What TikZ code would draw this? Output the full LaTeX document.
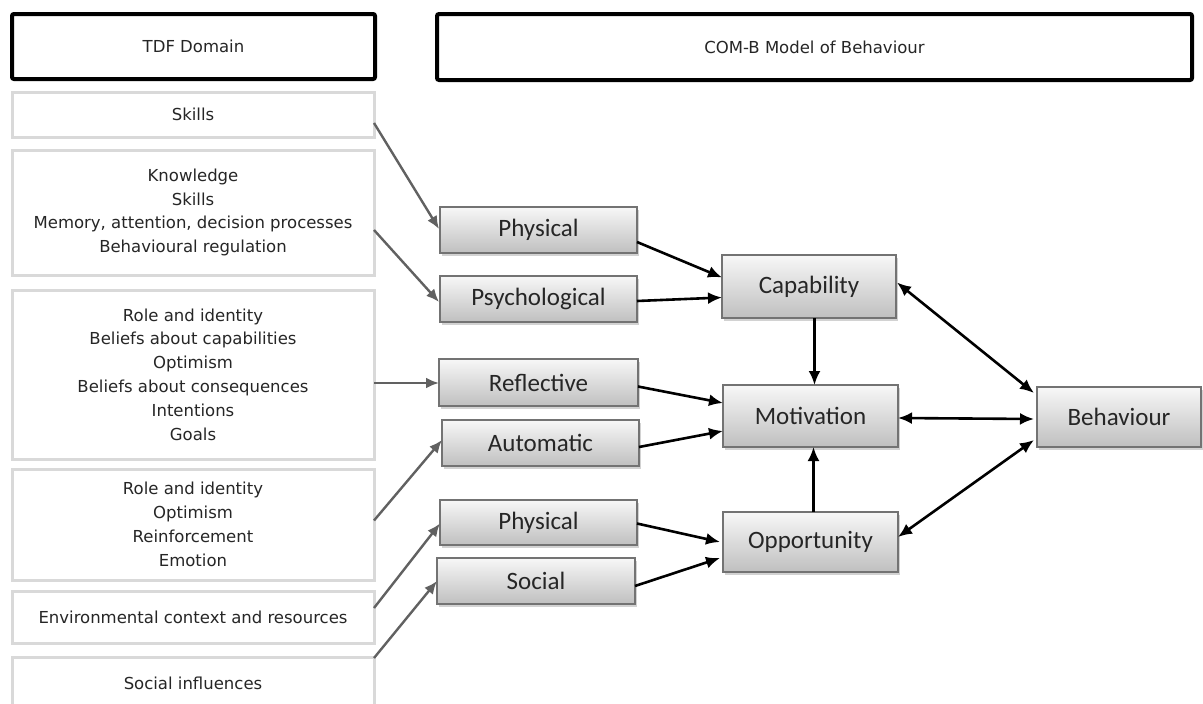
\documentclass[tikz,border=0pt]{standalone}
\usepackage{fontspec}
\setmainfont{DejaVu Sans}
\newfontfamily\calfont{Carlito}
\usetikzlibrary{arrows.meta,shadows,calc}
\begin{document}
\begin{tikzpicture}[x=1pt,y=-1pt,
  hdr/.style={draw=black,line width=4pt,rounded corners=2pt,inner sep=0pt,outer sep=0pt,
    font=\fontsize{16.5}{18}\selectfont,text=black!85},
  tdf/.style={draw=black!15,line width=3pt,inner sep=0pt,outer sep=0pt,minimum width=362pt,
    align=center,font=\fontsize{16.5}{23.8}\selectfont,text=black!85},
  gbox/.style={draw=black!55,line width=1.3pt,top color=black!3,bottom color=black!25,
    drop shadow={shadow xshift=2pt,shadow yshift=-2.5pt,opacity=0.35},
    inner sep=0pt,outer sep=0pt,font=\calfont\fontsize{25}{28}\selectfont,text=black!85},
  garrow/.style={draw=black!62,line width=2.4pt,-{Latex[length=13pt,width=11pt]}},
  barrow/.style={draw=black,line width=2.6pt,-{Latex[length=14pt,width=12pt]}},
  bdarrow/.style={draw=black,line width=2.6pt,{Latex[length=14pt,width=12pt]}-{Latex[length=14pt,width=12pt]}}
]
\clip (0,0) rectangle (1203,704);
\fill[white] (0,0) rectangle (1203,704);

% headers
\node[hdr,minimum width=363pt,minimum height=65pt] (hA) at (193.5,46.5) {TDF Domain};
\node[hdr,minimum width=755pt,minimum height=66pt] (hB) at (814.5,47) {COM-B Model of Behaviour};

% TDF domain boxes
\node[tdf,minimum height=45pt] (L1) at (193,114.5) {Skills};
\node[tdf,minimum height=125pt] (L2) at (193,212.5) {Knowledge\\Skills\\Memory, attention, decision processes\\Behavioural regulation};
\node[tdf,minimum height=169pt] (L3) at (193,374.5) {Role and identity\\Beliefs about capabilities\\Optimism\\Beliefs about consequences\\Intentions\\Goals};
\node[tdf,minimum height=111pt] (L4) at (193,524.5) {Role and identity\\Optimism\\Reinforcement\\Emotion};
\node[tdf,minimum height=52pt] (L5) at (193,617) {Environmental context and resources};
\node[tdf,minimum height=52pt] (L6) at (193,683) {Social influences};

% sources
\node[gbox,minimum width=197pt,minimum height=46pt] (P1) at (538.5,230) {Physical};
\node[gbox,minimum width=197pt,minimum height=46pt] (Ps) at (538.5,299) {Psychological};
\node[gbox,minimum width=199pt,minimum height=47pt] (R) at (538.5,382.5) {Reflective};
\node[gbox,minimum width=197pt,minimum height=46pt] (A) at (540.5,443) {Automatic};
\node[gbox,minimum width=197pt,minimum height=45pt] (P2) at (538.5,522.5) {Physical};
\node[gbox,minimum width=198pt,minimum height=46pt] (S) at (536,581) {Social};

% COM-B
\node[gbox,minimum width=174pt,minimum height=63pt] (Cap) at (809,286.5) {Capability};
\node[gbox,minimum width=175pt,minimum height=62pt] (Mot) at (810.5,416) {Motivation};
\node[gbox,minimum width=175pt,minimum height=60pt] (Opp) at (810.5,542) {Opportunity};
\node[gbox,minimum width=164pt,minimum height=60pt] (Beh) at (1119,417) {Behaviour};

% grey arrows
\draw[garrow] ($(L1.east)+(0,8.5)$) -- ($(P1.west)+(-1,-1)$);
\draw[garrow] ($(L2.east)+(0,17.5)$) -- ($(Ps.west)+(-1,3)$);
\draw[garrow] ($(L3.east)+(0,8.5)$) -- ($(R.west)+(0,0.5)$);
\draw[garrow] ($(L4.east)+(0,-4)$) -- ($(A.west)+(0,-3)$);
\draw[garrow] ($(L5.east)+(0,-9)$) -- ($(P2.west)+(0,1)$);
\draw[garrow] ($(L6.north east)+(0,1)$) -- (S.west);

% black arrows
\draw[barrow] ($(P1.east)+(0,12)$) -- ($(Cap.west)+(0,-9)$);
\draw[barrow] ($(Ps.east)+(0,2)$) -- ($(Cap.west)+(0,11)$);
\draw[barrow] ($(R.east)+(0,4)$) -- ($(Mot.west)+(0,-13)$);
\draw[barrow] ($(A.east)+(0,4)$) -- ($(Mot.west)+(0,15)$);
\draw[barrow] ($(P2.east)+(0,1)$) -- ($(Opp.west)+(-3,0)$);
\draw[barrow] ($(S.east)+(0,5)$) -- ($(Opp.west)+(-3,16)$);
\draw[barrow] ($(Cap.south)+(5.5,0)$) -- ($(Mot.north)+(4,0)$);
\draw[barrow] ($(Opp.north)+(3,0)$) -- ($(Mot.south)+(3,0)$);
\draw[bdarrow] ($(Cap.east)+(1,-4)$) -- ($(Beh.west)+(-3,-24)$);
\draw[bdarrow] ($(Mot.east)+(0,2)$) -- ($(Beh.west)+(-3,2)$);
\draw[bdarrow] ($(Opp.east)+(0,-5)$) -- ($(Beh.west)+(-3,23)$);
\end{tikzpicture}
\end{document}
